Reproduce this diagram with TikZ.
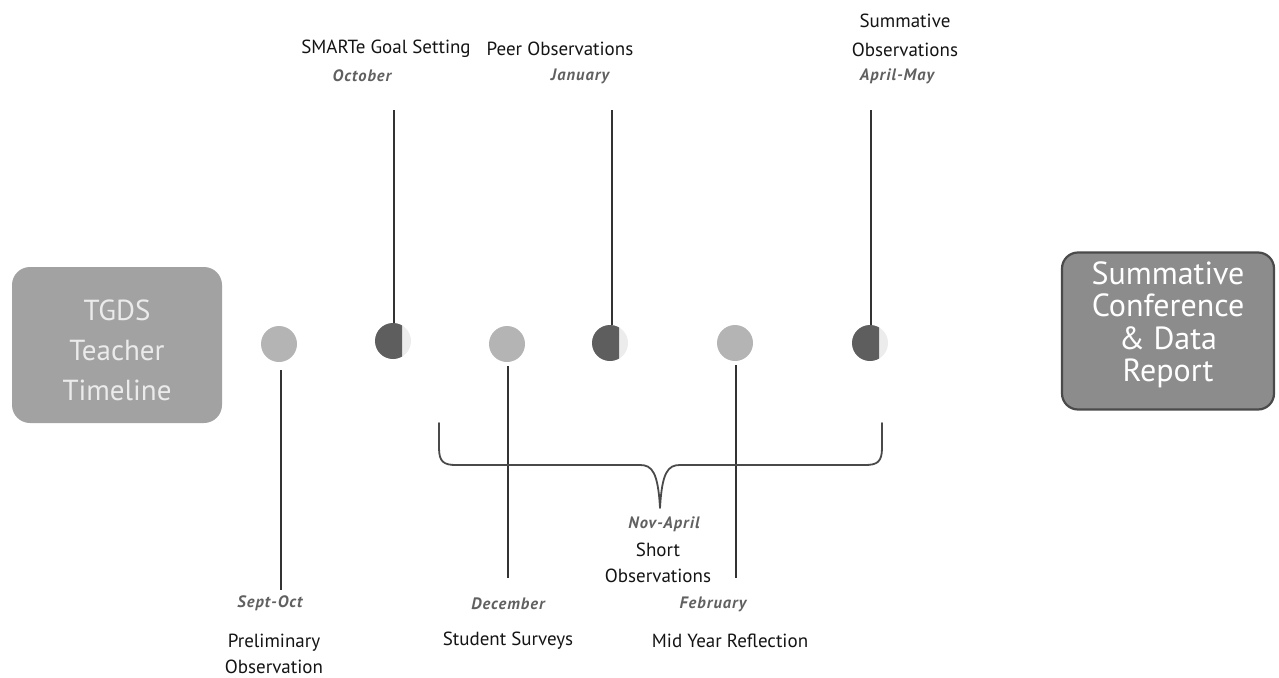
\documentclass[tikz,border=0pt]{standalone}
\usepackage{fontspec}
\setmainfont{PT Sans}
\newfontfamily\datefont[LetterSpace=6]{PT Sans}
\definecolor{boxgray}{HTML}{A2A2A2}
\definecolor{boxgrayB}{HTML}{8C8C8C}
\definecolor{boxedge}{HTML}{4A4A4A}
\definecolor{darkdot}{HTML}{5E5E5E}
\definecolor{lightdot}{HTML}{B4B4B4}
\definecolor{faintdot}{HTML}{ECECEC}
\definecolor{linec}{HTML}{333333}
\definecolor{datec}{HTML}{606060}
\definecolor{textc}{HTML}{141414}
\tikzset{
  lbl/.style={font=\fontsize{19}{26}\selectfont, text=textc, align=center, inner sep=0pt},
  datelbl/.style={font=\datefont\fontsize{16.5}{18}\selectfont\bfseries\itshape, text=datec, inner sep=0pt},
  lightdotnode/.style={circle, fill=lightdot, minimum size=36pt, inner sep=0pt},
  faintdotnode/.style={circle, fill=faintdot, minimum size=36pt, inner sep=0pt},
  conn/.style={draw=linec, line width=1.8pt},
  bracec/.style={draw=boxedge, line width=1.8pt, line cap=round, line join=round},
}
\begin{document}
\begin{tikzpicture}[x=1pt,y=-1pt]
\useasboundingbox (0,0) rectangle (1279,677);
% boxes
\node[fill=boxgray, rounded corners=18pt, minimum width=210pt, minimum height=156pt, inner sep=0pt] (tgds) at (117,345) {};
\node[text=white!92!black, align=center, font=\fontsize{29}{40}\selectfont, inner sep=0pt] (tgdstxt) at (117,350)
      {TGDS\\Teacher\\Timeline};
\node[fill=boxgrayB, draw=boxedge, line width=2.2pt, rounded corners=16pt, minimum width=212pt, minimum height=157pt, inner sep=0pt] (report) at (1168,331) {};
\node[text=white, align=center, font=\fontsize{32}{32.5}\selectfont, inner sep=0pt] (reporttxt) at (1168,325)
      {Summative\\Conference\\\&~Data\\Report};
% dots
\node[lightdotnode] (d1) at (279,344) {};
\node[faintdotnode] (d2) at (393,341) {};
\node[lightdotnode] (d3) at (507,344) {};
\node[faintdotnode] (d4) at (610,343) {};
\node[lightdotnode] (d5) at (735,343) {};
\node[faintdotnode] (d6) at (870,343) {};
\foreach \d in {d2,d4,d6}{
  \begin{scope}
    \clip (\d.center) ++(-20,-20) rectangle ++(29,40);
    \fill[darkdot] (\d.center) circle (18pt);
  \end{scope}
}
% labels top
\node[lbl] (smart) at (386,49) {SMARTe Goal Setting};
\node[datelbl] (oct) at (362,76) {October};
\node[lbl] (peer) at (560,49) {Peer Observations};
\node[datelbl] (jan) at (580,76) {January};
\node[lbl, font=\fontsize{19}{29}\selectfont] (summ) at (905,35) {Summative\\Observations};
\node[datelbl] (apr) at (897,76) {April-May};
% labels bottom
\node[datelbl] (sept) at (270,603) {Sept-Oct};
\node[lbl] (prelim) at (274,654) {Preliminary\\Observation};
\node[datelbl] (dec) at (508,604) {December};
\node[lbl] (surv) at (508,641) {Student Surveys};
\node[datelbl] (feb) at (713,604) {February};
\node[lbl] (mid) at (730,641) {Mid Year Reflection};
\node[datelbl] (nov) at (664,524) {Nov-April};
\node[lbl] (short) at (658,563) {Short\\Observations};
% free ends
\coordinate (t2) at (394,110);
\coordinate (t4) at (612,110);
\coordinate (t6) at (871,110);
\coordinate (b1) at (281,590);
\coordinate (b3) at (508,578);
\coordinate (b5) at (736,578);
% connectors
\draw[conn] (t2) -- (t2 |- d2.north);
\draw[conn] (t4) -- (t4 |- d4.north);
\draw[conn] (t6) -- (t6 |- d6.north);
\draw[conn] (b1 |- d1.south) ++(0,8) -- (b1);
\draw[conn] (b3 |- d3.south) ++(0,4) -- (b3);
\draw[conn] (b5 |- d5.south) ++(0,4) -- (b5);
% brace
\coordinate (brL) at (439,423);
\coordinate (brR) at (882,423);
\coordinate (brT) at (660,508);
\draw[bracec] (brL) -- (439,448) .. controls (439,462) and (444,465) .. (456,465)
  -- (640,465) .. controls (652,465) and (658,472) .. (brT)
  .. controls (662,472) and (668,465) .. (680,465)
  -- (865,465) .. controls (877,465) and (882,462) .. (882,448) -- (brR);
\end{tikzpicture}
\end{document}
